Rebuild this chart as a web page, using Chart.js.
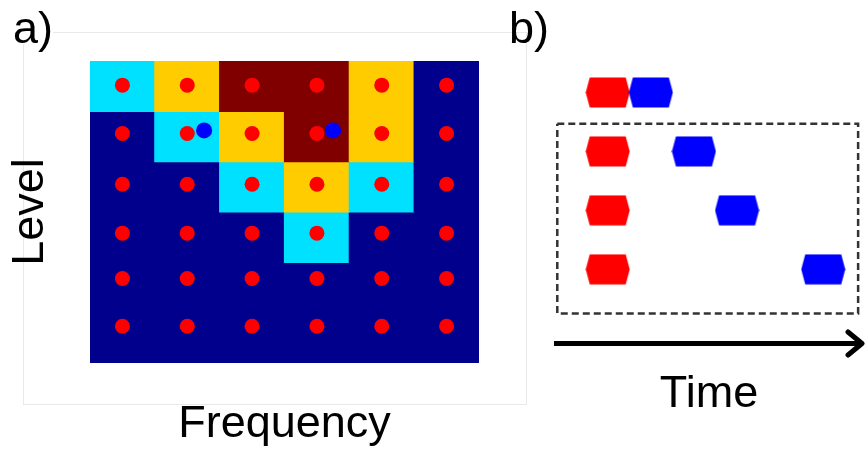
<!DOCTYPE html>
<html>
<head>
<meta charset="utf-8">
<script src="https://cdn.jsdelivr.net/npm/chart.js@4.4.1/dist/chart.umd.min.js"></script>
<style>
  html, body { margin: 0; padding: 0; background: #fff; }
  body { width: 865px; height: 452px; position: relative; overflow: hidden; }
  #frameA { position: absolute; left: 23px; top: 32px; width: 504px; height: 373px;
            box-sizing: border-box; border: 1px solid #e9e9e9; }
  #panelA { position: absolute; left: 0; top: 0; }
  #panelB { position: absolute; left: 500px; top: 0; }
</style>
</head>
<body>
<div id="frameA"></div>
<canvas id="panelA" width="500" height="452"></canvas>
<canvas id="panelB" width="365" height="452"></canvas>
<script>
// ---------- panel a: level x frequency map ----------
const frequencyBins = [0.5, 1.5, 2.5, 3.5, 4.5, 5.5];      // bin centres
const levelRows = [0, 1, 2, 3, 4, 5];                        // top row first
// colour class of each cell (0 = none, 1 = low, 2 = mid, 3 = high)
const cellClass = [
  [1, 2, 3, 3, 2, 0],
  [0, 1, 2, 3, 2, 0],
  [0, 0, 1, 2, 1, 0],
  [0, 0, 0, 1, 0, 0],
  [0, 0, 0, 0, 0, 0],
  [0, 0, 0, 0, 0, 0]
];
const classColors = ['#00008c', '#00e0ff', '#ffcc00', '#800000'];
// sample points (red) on every cell, vertical position per level row
const sampleLevelPos = [0.48, 1.44, 2.45, 3.42, 4.32, 5.27];
// probe points (blue)
const probeFreq = [1.76, 3.75];
const probeLevel = [1.38, 1.38];

// ---------- panel b: timing of the two tones ----------
const pairRows = [0, 1, 2, 3];
const redOnsets = [0, 0, 0, 0];
const blueOnsets = [1, 2, 3, 5];
const windowTime = [-1.17, 5.81];
const windowRows = [0.53, 3.75];

const FONT = '"Liberation Sans", Arial, Helvetica, sans-serif';

const panelLabel = {
  id: 'panelLabel',
  afterDraw(chart, args, opts) {
    const ctx = chart.ctx;
    ctx.save();
    if (opts.mask) {
      ctx.fillStyle = '#ffffff';
      ctx.fillRect(opts.mask[0], opts.mask[1], opts.mask[2], opts.mask[3]);
    }
    ctx.font = '45px ' + FONT;
    ctx.fillStyle = '#000';
    ctx.textBaseline = 'alphabetic';
    ctx.textAlign = 'left';
    ctx.fillText(opts.text, opts.x, opts.y);
    ctx.restore();
  }
};

const hiddenAxis = (extra) => Object.assign({
  grid: { display: false, drawTicks: false },
  border: { display: false }
}, extra);

// heatmap cells as floating bars, one dataset per level row
const cellSets = levelRows.map((r) => ({
  type: 'bar',
  order: 3,
  grouped: false,
  barPercentage: 1,
  categoryPercentage: 1,
  borderWidth: 0,
  inflateAmount: 0.6,
  backgroundColor: cellClass[r].map((c) => classColors[c]),
  data: frequencyBins.map((f) => ({ x: f, y: [r, r + 1] }))
}));

const samplePts = [];
levelRows.forEach((r) => frequencyBins.forEach((f) => samplePts.push({ x: f, y: sampleLevelPos[r] })));

new Chart(document.getElementById('panelA'), {
  type: 'bar',
  data: {
    datasets: [
      {
        type: 'scatter', order: 0,
        data: probeFreq.map((f, i) => ({ x: f, y: probeLevel[i] })),
        pointRadius: 8, pointBackgroundColor: '#0000ff', pointBorderWidth: 0
      },
      {
        type: 'scatter', order: 1,
        data: samplePts,
        pointRadius: 7.5, pointBackgroundColor: '#ff0000', pointBorderWidth: 0
      },
      ...cellSets
    ]
  },
  options: {
    responsive: false,
    animation: false,
    events: [],
    layout: { autoPadding: false, padding: { top: 61, right: 21, bottom: 0, left: 0 } },
    plugins: {
      legend: { display: false },
      tooltip: { enabled: false },
      panelLabel: { text: 'a)', x: 13, y: 43, mask: [19, 28, 34, 16] }
    },
    scales: {
      x: hiddenAxis({
        type: 'linear', min: 0, max: 6, offset: false,
        ticks: { display: false, stepSize: 1 },
        title: { display: true, text: 'Frequency', color: '#000',
                 font: { family: FONT, size: 45 }, padding: { top: 0, bottom: 0 } },
        afterFit: (s) => { s.height = 89; }
      }),
      y: hiddenAxis({
        type: 'linear', min: 0, max: 6, reverse: true, offset: false,
        ticks: { display: false, stepSize: 1 },
        title: { display: true, text: 'Level', color: '#000',
                 font: { family: FONT, size: 45 }, padding: { top: 4, bottom: 4 } },
        afterFit: (s) => { s.width = 90; }
      })
    }
  },
  plugins: [panelLabel]
});

// ---------- panel b ----------
function hexagon(color) {
  const c = document.createElement('canvas');
  c.width = 45; c.height = 31;
  const g = c.getContext('2d');
  g.fillStyle = color;
  g.beginPath();
  g.moveTo(4.5, 0.5); g.lineTo(40.5, 0.5); g.lineTo(44.5, 15.5);
  g.lineTo(40.5, 30.5); g.lineTo(4.5, 30.5); g.lineTo(0.5, 15.5);
  g.closePath();
  g.fill();
  return c;
}

const arrowHead = {
  id: 'arrowHead',
  afterDraw(chart) {
    const s = chart.scales.x;
    const y = s._borderValue !== undefined ? s._borderValue : chart.chartArea.bottom + 0.5;
    const tip = s.right;
    const ctx = chart.ctx;
    ctx.save();
    ctx.strokeStyle = '#000';
    ctx.lineWidth = 5;
    ctx.lineCap = 'round';
    ctx.lineJoin = 'round';
    ctx.beginPath();
    ctx.moveTo(tip - 14, y - 11.5);
    ctx.lineTo(tip, y);
    ctx.lineTo(tip - 14, y + 11.5);
    ctx.stroke();
    ctx.restore();
  }
};

new Chart(document.getElementById('panelB'), {
  type: 'scatter',
  data: {
    datasets: [
      {
        order: 0,
        data: pairRows.map((r, i) => ({ x: blueOnsets[i], y: r })),
        pointStyle: hexagon('#0000ff'), pointRadius: 22
      },
      {
        order: 1,
        data: pairRows.map((r, i) => ({ x: redOnsets[i], y: r })),
        pointStyle: hexagon('#ff0000'), pointRadius: 22
      },
      {
        type: 'line', order: 2,
        data: [
          { x: windowTime[0], y: windowRows[0] },
          { x: windowTime[1], y: windowRows[0] },
          { x: windowTime[1], y: windowRows[1] },
          { x: windowTime[0], y: windowRows[1] },
          { x: windowTime[0], y: windowRows[0] }
        ],
        borderColor: '#333333', borderWidth: 2.5, borderDash: [7, 4],
        pointRadius: 0, fill: false, tension: 0, clip: false
      }
    ]
  },
  options: {
    responsive: false,
    animation: false,
    events: [],
    layout: { autoPadding: false, padding: { top: 63, right: 3, bottom: 0, left: 56 } },
    plugins: {
      legend: { display: false },
      tooltip: { enabled: false },
      panelLabel: { text: 'b)', x: 9, y: 43 }
    },
    scales: {
      x: {
        type: 'linear', min: -1.2, max: 5.9,
        ticks: { display: false },
        grid: { display: false, drawTicks: false },
        border: { display: true, width: 5, color: '#000' },
        title: { display: true, text: 'Time', color: '#000',
                 font: { family: FONT, size: 45 }, padding: { top: 0, bottom: 30 } },
        afterFit: (s) => { s.height = 109; }
      },
      y: {
        display: false, type: 'linear', min: -0.5, max: 4.25, reverse: true
      }
    }
  },
  plugins: [panelLabel, arrowHead]
});
</script>
</body>
</html>
